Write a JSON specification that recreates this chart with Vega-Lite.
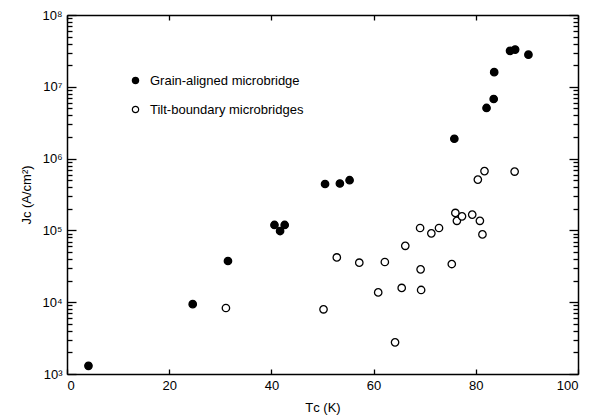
{
  "$schema": "https://vega.github.io/schema/vega-lite/v6.json",
  "width": 511,
  "height": 359,
  "autosize": "none",
  "padding": {"left": 67, "top": 15, "right": 14, "bottom": 43},
  "data": {"values": [
    {"tc": 4.2, "jc": 1300, "type": "Grain-aligned microbridge"},
    {"tc": 24.6, "jc": 9400, "type": "Grain-aligned microbridge"},
    {"tc": 31.5, "jc": 37500, "type": "Grain-aligned microbridge"},
    {"tc": 40.6, "jc": 119000, "type": "Grain-aligned microbridge"},
    {"tc": 41.7, "jc": 98000, "type": "Grain-aligned microbridge"},
    {"tc": 42.6, "jc": 119000, "type": "Grain-aligned microbridge"},
    {"tc": 50.5, "jc": 443000, "type": "Grain-aligned microbridge"},
    {"tc": 53.4, "jc": 450000, "type": "Grain-aligned microbridge"},
    {"tc": 55.3, "jc": 500000, "type": "Grain-aligned microbridge"},
    {"tc": 75.8, "jc": 1890000, "type": "Grain-aligned microbridge"},
    {"tc": 82.1, "jc": 5070000, "type": "Grain-aligned microbridge"},
    {"tc": 83.5, "jc": 6760000, "type": "Grain-aligned microbridge"},
    {"tc": 83.6, "jc": 16000000, "type": "Grain-aligned microbridge"},
    {"tc": 86.7, "jc": 31700000, "type": "Grain-aligned microbridge"},
    {"tc": 87.7, "jc": 33000000, "type": "Grain-aligned microbridge"},
    {"tc": 90.3, "jc": 28000000, "type": "Grain-aligned microbridge"},
    {"tc": 31.1, "jc": 8300, "type": "Tilt-boundary microbridges"},
    {"tc": 50.2, "jc": 7960, "type": "Tilt-boundary microbridges"},
    {"tc": 52.8, "jc": 42000, "type": "Tilt-boundary microbridges"},
    {"tc": 57.2, "jc": 35500, "type": "Tilt-boundary microbridges"},
    {"tc": 62.2, "jc": 36300, "type": "Tilt-boundary microbridges"},
    {"tc": 60.9, "jc": 13700, "type": "Tilt-boundary microbridges"},
    {"tc": 65.5, "jc": 15800, "type": "Tilt-boundary microbridges"},
    {"tc": 69.3, "jc": 14800, "type": "Tilt-boundary microbridges"},
    {"tc": 69.2, "jc": 28700, "type": "Tilt-boundary microbridges"},
    {"tc": 64.2, "jc": 2760, "type": "Tilt-boundary microbridges"},
    {"tc": 66.2, "jc": 61000, "type": "Tilt-boundary microbridges"},
    {"tc": 69.1, "jc": 108000, "type": "Tilt-boundary microbridges"},
    {"tc": 71.3, "jc": 91000, "type": "Tilt-boundary microbridges"},
    {"tc": 72.8, "jc": 108000, "type": "Tilt-boundary microbridges"},
    {"tc": 75.3, "jc": 34000, "type": "Tilt-boundary microbridges"},
    {"tc": 76.0, "jc": 175000, "type": "Tilt-boundary microbridges"},
    {"tc": 76.3, "jc": 136000, "type": "Tilt-boundary microbridges"},
    {"tc": 77.3, "jc": 157000, "type": "Tilt-boundary microbridges"},
    {"tc": 79.3, "jc": 166000, "type": "Tilt-boundary microbridges"},
    {"tc": 80.8, "jc": 136000, "type": "Tilt-boundary microbridges"},
    {"tc": 81.3, "jc": 88000, "type": "Tilt-boundary microbridges"},
    {"tc": 80.4, "jc": 510000, "type": "Tilt-boundary microbridges"},
    {"tc": 81.7, "jc": 670000, "type": "Tilt-boundary microbridges"},
    {"tc": 87.6, "jc": 660000, "type": "Tilt-boundary microbridges"}
  ]},
  "layer": [
    {
      "mark": {"type": "point", "shape": "circle", "size": 55, "stroke": "black", "strokeWidth": 1.3, "opacity": 1},
      "encoding": {
        "x": {"field": "tc", "type": "quantitative", "scale": {"domain": [0, 100], "nice": false, "zero": false},
          "axis": {"orient": "bottom", "values": [0, 20, 40, 60, 80, 100], "grid": true, "gridOpacity": 0, "tickSize": -5, "tickColor": "black", "tickWidth": 1.3, "domainColor": "black", "domainWidth": 1.5,
            "labelPadding": 10, "labelColor": "black", "labelFontSize": 13, "labelFont": "Liberation Sans",
            "title": "Tᴄ (K)", "titlePadding": 9, "titleFont": "Liberation Sans", "titleFontSize": 13, "titleFontWeight": "normal", "titleColor": "black"}},
        "y": {"field": "jc", "type": "quantitative", "scale": {"type": "log", "domain": [1000, 100000000], "nice": false},
          "axis": {"orient": "left", "grid": true, "gridOpacity": 0, "tickColor": "black", "tickWidth": 1.3, "domainColor": "black", "domainWidth": 1.5,
            "values": [1000,2000,3000,4000,5000,6000,7000,8000,9000,10000,20000,30000,40000,50000,60000,70000,80000,90000,100000,200000,300000,400000,500000,600000,700000,800000,900000,1000000,2000000,3000000,4000000,5000000,6000000,7000000,8000000,9000000,10000000,20000000,30000000,40000000,50000000,60000000,70000000,80000000,90000000,100000000],
            "labelExpr": "indexof([1000,10000,100000,1000000,10000000,100000000], datum.value) >= 0 ? '10' + ['³','⁴','⁵','⁶','⁷','⁸'][indexof([1000,10000,100000,1000000,10000000,100000000], datum.value)] : ''",
            "tickSize": {"condition": {"test": "indexof([1000,10000,100000,1000000,10000000,100000000], datum.value) >= 0", "value": -9}, "value": -5},
            "labelPadding": 14, "labelColor": "black", "labelFontSize": 13, "labelFont": "Liberation Sans",
            "title": "Jᴄ (A/cm²)", "titlePadding": 8, "titleFont": "Liberation Sans", "titleFontSize": 13, "titleFontWeight": "normal", "titleColor": "black"}},
        "fill": {"field": "type", "type": "nominal",
          "scale": {"domain": ["Grain-aligned microbridge", "Tilt-boundary microbridges"], "range": ["black", "white"]},
          "legend": {"title": null, "orient": "none", "legendX": 62, "legendY": 59, "labelFontSize": 13, "labelFont": "Liberation Sans", "labelColor": "black", "rowPadding": 15, "symbolSize": 40, "symbolStrokeColor": "black", "symbolStrokeWidth": 1.2, "labelOffset": 8}}
      }
    },
    {
      "mark": {"type": "point", "shape": "circle", "opacity": 0},
      "encoding": {
        "x": {"field": "tc", "type": "quantitative", "axis": {"orient": "top", "values": [0, 20, 40, 60, 80, 100], "grid": true, "gridOpacity": 0, "tickSize": -5, "tickColor": "black", "tickWidth": 1.3, "domainColor": "black", "domainWidth": 1.5, "labels": false, "title": null}},
        "y": {"field": "jc", "type": "quantitative",
          "axis": {"orient": "right", "labels": false, "title": null, "grid": true, "gridOpacity": 0, "tickColor": "black", "tickWidth": 1.3, "domainColor": "black", "domainWidth": 1.5,
            "values": [1000,2000,3000,4000,5000,6000,7000,8000,9000,10000,20000,30000,40000,50000,60000,70000,80000,90000,100000,200000,300000,400000,500000,600000,700000,800000,900000,1000000,2000000,3000000,4000000,5000000,6000000,7000000,8000000,9000000,10000000,20000000,30000000,40000000,50000000,60000000,70000000,80000000,90000000,100000000],
            "tickSize": {"condition": {"test": "indexof([1000,10000,100000,1000000,10000000,100000000], datum.value) >= 0", "value": -9}, "value": -5}}}
      }
    }
  ],
  "resolve": {"axis": {"x": "independent", "y": "independent"}}
}
